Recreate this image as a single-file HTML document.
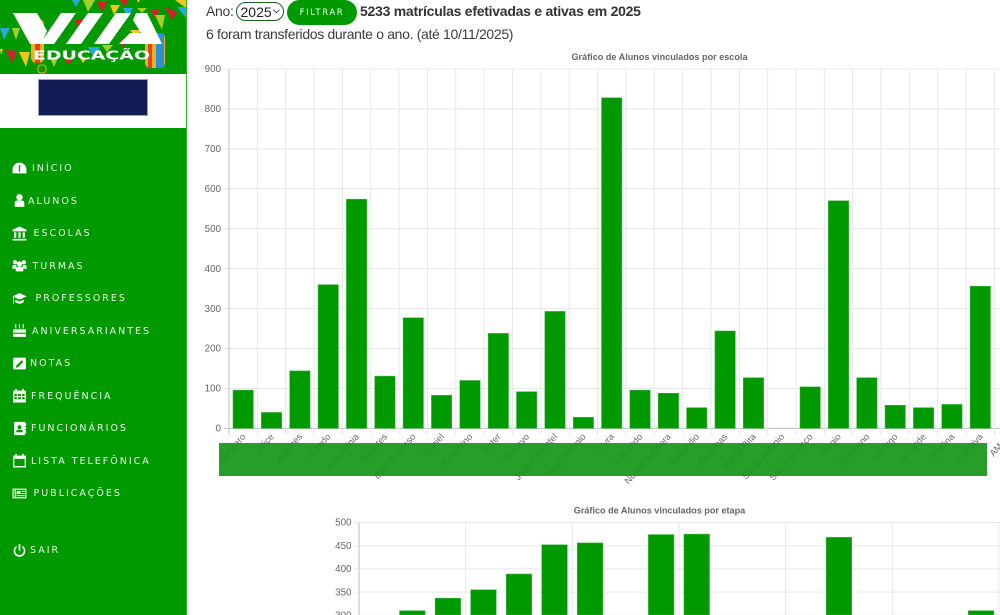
<!DOCTYPE html>
<html lang="pt-BR">
<head>
<meta charset="utf-8">
<title>Alunos vinculados</title>
<style>
html,body{margin:0;padding:0;background:#fff;width:1000px;height:615px;overflow:hidden}
body{position:relative;font-family:"Liberation Sans","DejaVu Sans",sans-serif;color:#333}
#sidebar{position:absolute;left:0;top:0;width:186px;height:615px;background:#009900;border-right:1px solid #33ad33}
#logo{position:absolute;left:0;top:0;width:186px;height:74px;display:block}
#brand-band{position:absolute;left:0;top:74px;width:186px;height:54px;background:#fff}
#brand-box{position:absolute;left:38px;top:5px;width:110px;height:37px;background:#141c55;border:.5px solid #9aa0c0;box-sizing:border-box}
.nav{position:absolute;left:0;width:186px;height:20px;color:#e9f6e9;text-decoration:none;display:block}
.nav svg{position:absolute;left:11.500px;top:2.500px;width:15px;height:15px;fill:#fff}
.nav span{position:absolute;top:5px;font:9.500px/12px "DejaVu Sans",sans-serif;letter-spacing:2px;white-space:nowrap}
#t1,#t2{position:absolute;white-space:nowrap;font-size:14px;line-height:18px;color:#3c3c3c}
#t1{left:206px;top:2px;letter-spacing:-.3px}
#t2{left:206px;top:25px;letter-spacing:-.33px}
#year-wrap{position:absolute;left:236px;top:2px;width:48px;height:19px}
#year{appearance:none;-webkit-appearance:none;width:48px;height:19px;border:1px solid #1f5c1f;border-radius:10px;background:#fff;color:#222;font:14px "Liberation Sans",sans-serif;padding:0 0 0 3.500px;margin:0;box-sizing:border-box;outline:none}
#year-wrap svg{position:absolute;left:37px;top:7px;width:7px;height:5px;pointer-events:none}
#filtrar{position:absolute;left:287px;top:0;width:70px;height:25px;border:0;border-radius:13px;background:#009900;color:#fff;font:8.500px "DejaVu Sans",sans-serif;letter-spacing:1.600px;padding:0}
#headline{position:absolute;left:360px;top:2px;font-weight:bold;font-size:14px;line-height:18px;color:#333;white-space:nowrap;letter-spacing:-.26px}
#chart{position:absolute;left:0;top:0;width:1000px;height:615px;display:block}
#redaction{position:absolute;left:219px;top:443px;width:768px;height:33px;background:rgba(25,150,25,.93)}
</style>
</head>
<body>

<svg id="chart" viewBox="0 0 1000 615"></svg>
<div id="redaction"></div>

<div id="t1">Ano:</div>
<div id="year-wrap">
  <select id="year"><option>2025</option></select>
  <svg viewBox="0 0 8 5"><path d="M.5.5 4 4 7.500.5" fill="none" stroke="#333" stroke-width="1"/></svg>
</div>
<button id="filtrar">FILTRAR</button>
<div id="headline">5233 matrículas efetivadas e ativas em 2025</div>
<div id="t2">6 foram transferidos durante o ano. (até 10/11/2025)</div>

<nav id="sidebar">
  <svg id="logo" viewBox="0 0 186 74">
    <rect width="186" height="74" fill="#009900"/>
    <g><rect x="31" y="19" width="13" height="44" rx="5" fill="#f2b01e"/><rect x="35" y="19" width="5" height="44" fill="#e0452b"/><rect x="38" y="65" width="8" height="8" rx="3" fill="none" stroke="#f2b01e" stroke-width="1"/></g>
    <g><rect x="145" y="33" width="20" height="35" rx="5" fill="#f2b01e"/><rect x="156" y="33" width="8" height="35" fill="#2a90d8"/><rect x="148" y="33" width="4" height="35" fill="#e0452b"/></g>
    <g>
      <polygon points="72,0 80,0 76,7" fill="#29a8dc"/><polygon points="83,0 95,0 88,12" fill="#a4cf2a"/><polygon points="97,2 107,2 102,12" fill="#d8202c"/><polygon points="110,5 120,5 114,15" fill="#f4c51c"/><polygon points="120,0 128,0 125,7" fill="#d8202c"/><polygon points="123,8 133,8 128,18" fill="#29a8dc"/><polygon points="137,0 140,0 138,3" fill="#f4c51c"/><polygon points="137,8 147,8 142,13" fill="#a4cf2a"/><polygon points="150,9 160,9 155,18" fill="#d8202c"/><polygon points="165,7 177,12 172,20" fill="#d8202c"/><polygon points="175,0 186,0 186,8" fill="#f4c51c"/><polygon points="177,7 186,7 186,18" fill="#29a8dc"/>
      <polygon points="155,15 165,15 162,30" fill="#a4cf2a"/><polygon points="130,30 140,30 140,43" fill="#f4c51c"/><polygon points="75,20 83,20 78,28" fill="#d8202c"/><polygon points="50,27 60,27 54,35" fill="#29a8dc"/>
      <polygon points="0,28 10,28 4,40" fill="#29a8dc"/><polygon points="12,28 20,28 16,40" fill="#a4cf2a"/><polygon points="0,49 3,49 1,55" fill="#f4c51c"/><polygon points="6,50 17,51 12,63" fill="#d8202c"/><polygon points="19,52 30,52 26,67" fill="#f4c51c"/>
      <polygon points="50,58 58,58 54,67" fill="#a4cf2a"/><polygon points="65,60 72,60 68,65" fill="#d8202c"/><polygon points="80,58 87,58 83,63" fill="#f4c51c"/><polygon points="88,47 100,47 95,60" fill="#29a8dc"/><polygon points="102,45 113,45 107,52" fill="#a4cf2a"/><polygon points="120,40 127,40 123,48" fill="#d8202c"/>
    </g>
    <g fill="#fff">
      <polygon points="13,13 37,13 47,31 41,44 30,44"/>
      <polygon points="61,13 76,13 54,44 40,44"/>
      <polygon points="88,13 103,13 81,44 66,44"/>
      <polygon points="116,13 131,13 109,44 94,44"/>
      <polygon points="136,13 147,13 162,44 119,44 130,33 141,33 133,20"/>
    </g>
    <text x="91.500" y="59.500" text-anchor="middle" fill="#fff" font-family="'DejaVu Sans',sans-serif" font-size="12" font-weight="bold" textLength="117" lengthAdjust="spacingAndGlyphs">EDUCAÇÃO</text>
  </svg>
  <div id="brand-band"><div id="brand-box"></div></div>

  <a class="nav" style="top:158px" href="#"><svg viewBox="0 0 14 14"><path d="M7 1.500A6.500 6.500 0 0 0 .5 8v3.500h13V8A6.500 6.500 0 0 0 7 1.500zM6.300 4h1.400l-.2 6h-1z"/></svg><span style="left:32px">INÍCIO</span></a>
  <a class="nav" style="top:190.500px" href="#"><svg viewBox="0 0 14 14"><circle cx="7" cy="4" r="3"/><path d="M2.500 13V9.500Q2.500 7 5 7h4q2.500 0 2.500 2.500V13z"/></svg><span style="left:28px">ALUNOS</span></a>
  <a class="nav" style="top:223px" href="#"><svg viewBox="0 0 14 14"><path d="M7 .5.500 3.500V5h13V3.500zM2 6h2v5H2zm4 0h2v5H6zm4 0h2v5h-2zM.5 12h13v1.500H.5z"/></svg><span style="left:33.500px">ESCOLAS</span></a>
  <a class="nav" style="top:255.500px" href="#"><svg viewBox="0 0 14 14"><circle cx="2.800" cy="4" r="2"/><circle cx="11.200" cy="4" r="2"/><circle cx="7" cy="5.500" r="2.500"/><path d="M.3 10V8q0-1.500 2.500-1.500T4 7v3zm9.700 0V7q0-.5 1.200-.5 2.500 0 2.500 1.500v2zM3.500 12.500V10q0-2 3.500-2t3.500 2v2.500z"/></svg><span style="left:32.500px">TURMAS</span></a>
  <a class="nav" style="top:288px" href="#"><svg viewBox="0 0 14 14"><path d="M7 2 .3 5 7 8l6.700-3zM3 8v2.500Q7 13 11 10.500V8L7 9.800zM1 6v6h.8V5.600z"/></svg><span style="left:35.500px">PROFESSORES</span></a>
  <a class="nav" style="top:320.500px" href="#"><svg viewBox="0 0 14 14"><path d="M3 1h1v4H3zm3.500 0h1v4h-1zM10 1h1v4h-1zM1 6h12v3H1zm0 4h12v3H1z"/></svg><span style="left:32px">ANIVERSARIANTES</span></a>
  <a class="nav" style="top:353px" href="#"><svg viewBox="0 0 14 14"><path fill-rule="evenodd" d="M2 1.500h10a1 1 0 0 1 1 1v9a1 1 0 0 1-1 1H2a1 1 0 0 1-1-1v-9a1 1 0 0 1 1-1zM9 4 4 9l-.5 2 2-.5 5-5z"/></svg><span style="left:30px">NOTAS</span></a>
  <a class="nav" style="top:385.500px" href="#"><svg viewBox="0 0 14 14"><path fill-rule="evenodd" d="M3 .8h1.500v1.700h5V.8H11v1.700h2v11H1v-11h2zM2.200 5.500v2h2.300v-2zm3.500 0v2h2.600v-2zm3.800 0v2h2.300v-2zm-7.300 3v2h2.300v-2zm3.500 0v2h2.600v-2zm3.800 0v2h2.300v-2z"/></svg><span style="left:31px">FREQUÊNCIA</span></a>
  <a class="nav" style="top:418px" href="#"><svg viewBox="0 0 14 14"><path fill-rule="evenodd" d="M2 .8h10v1h1.200v3H12v1h1.200v2H12v1h1.200v3H12v1.400H2zM7 4a1.800 1.800 0 1 0 0 3.600A1.800 1.800 0 0 0 7 4zM4 10.500h6V9.500Q10 8 7 8T4 9.500z"/></svg><span style="left:31px">FUNCIONÁRIOS</span></a>
  <a class="nav" style="top:450.500px" href="#"><svg viewBox="0 0 14 14"><path fill-rule="evenodd" d="M3 .8h1.500v1.700h5V.8H11v1.700h2v11H1v-11h2zM2.200 5.500v6.800h9.600V5.500z"/></svg><span style="left:31px">LISTA TELEFÔNICA</span></a>
  <a class="nav" style="top:483px" href="#"><svg viewBox="0 0 14 14"><path fill-rule="evenodd" d="M.5 2.500h13v9H.5zM1.500 3.500v7h1v-7zM3.500 3.500v7h9v-7zM4.300 4.500H8v3H4.300zM9 4.500h2.800v1H9zM9 6.500h2.800v1H9zM4.300 8.500h7.500v1H4.300z"/></svg><span style="left:33.500px">PUBLICAÇÕES</span></a>
  <a class="nav" style="top:540px" href="#"><svg viewBox="0 0 14 14"><path d="M6.200 1h1.600v6H6.200zM4.300 2.600v1.700a4 4 0 1 0 5.400 0V2.600a5.500 5.500 0 1 1-5.400 0z"/></svg><span style="left:30px">SAIR</span></a>
</nav>

<script>
const schoolNames = ["Amparo","Alice","Antunes","Arlindo","Arquimínia","Bacietes","Bom Sucesso","Daniel","Ernestino","Ester","Gustavo","João Pimentel","José Antonio","Lavra","Laurindo","Nossa Senhora","Petronilio","Pindobas","Santa Rita","Santo Antonio","São Francisco","Sergio","Tertuliano","Valongo","Visconde","Vitalina","Primitiva","AMAR"];
const schoolStudents = [96,40,144,360,574,131,277,83,120,238,92,293,28,828,96,88,52,244,127,0,104,570,127,58,52,60,356,0];
const schoolTicks = [0,100,200,300,400,500,600,700,800,900];
const stageStudents = [280,310,337,355,389,452,456,280,474,475,280,280,280,468,280,280,280,310,280];
const stageTicks = [300,350,400,450,500];
const stageGridEvery = 3;

const svg = document.getElementById('chart');
const NS = 'http://www.w3.org/2000/svg';
function make(tag, attrs, text) {
  const el = document.createElementNS(NS, tag);
  for (const k in attrs) el.setAttribute(k, attrs[k]);
  if (text !== undefined) el.textContent = text;
  svg.appendChild(el);
  return el;
}
const FRAME_BOTTOM = 615;
const schoolX = i => 229 + i * 28.35;
const schoolY = v => 428.4 - v * (359.4 / 900);
const stageX = i => 359 + i * 35.55;
const stageY = v => 754.5 - v * (232 / 500);

const title1 = make('text', {x:659.5, y:60, 'text-anchor':'middle', fill:'#666', 'font-size':9.1, 'font-weight':'bold', 'font-family':'"Liberation Sans",sans-serif'}, 'Gráfico de Alunos vinculados por escola');



schoolTicks.forEach(t => {
  const g = make('line', {x1:224, x2:1000, y1:schoolY(t), y2:schoolY(t), stroke: t === 0 ? '#bdbdbd' : '#e8e8e8', 'stroke-width':1});
  
  
  const l = make('text', {x:221, y:schoolY(t) + 3.2, 'text-anchor':'end', fill:'#666', 'font-size':9.8, 'font-family':'"Liberation Sans",sans-serif'}, String(t));
  
  
});
schoolNames.forEach((n, i) => {
  if (i === 0) return;
  const g = make('line', {x1:schoolX(i), x2:schoolX(i), y1:schoolY(900), y2:435, stroke:'#e8e8e8', 'stroke-width':1});
  
  
});
const axis1 = make('line', {x1:229, x2:229, y1:schoolY(900), y2:435, stroke:'#bdbdbd', 'stroke-width':1});



schoolStudents.forEach((v, i) => {
  const cx = schoolX(i + .5);
  const b = make('rect', {x:cx - 10.2, y:schoolY(v), width:20.4, height:schoolY(0) - schoolY(v), fill:'#009900', stroke:'#44b544', 'stroke-width':.5});
  if (v === 0) b.setAttribute('stroke', 'none');
  
  
});
schoolNames.forEach((n, i) => {
  const cx = schoolX(i + .5) + 3;
  const l = make('text', {x:cx, y:437, 'text-anchor':'end', fill:'#6e6e6e', 'font-size':9.3, transform:`rotate(-48 ${cx} 437)`, 'font-family':'"Liberation Sans",sans-serif'}, n);
  
  
});

const title2 = make('text', {x:659.5, y:513.5, 'text-anchor':'middle', fill:'#666', 'font-size':9.1, 'font-weight':'bold', 'font-family':'"Liberation Sans",sans-serif'}, 'Gráfico de Alunos vinculados por etapa');



stageTicks.forEach(t => {
  const g = make('line', {x1:354, x2:1000, y1:stageY(t), y2:stageY(t), stroke:'#e8e8e8', 'stroke-width':1});
  
  
  const l = make('text', {x:351.5, y:stageY(t) + 3.2, 'text-anchor':'end', fill:'#666', 'font-size':9.8, 'font-family':'"Liberation Sans",sans-serif'}, String(t));
  
  
});
stageStudents.forEach((v, i) => {
  if (i === 0 || i % stageGridEvery !== 0) return;
  const g = make('line', {x1:stageX(i), x2:stageX(i), y1:stageY(500), y2:FRAME_BOTTOM, stroke:'#e8e8e8', 'stroke-width':1});
  
  
});
const axis2 = make('line', {x1:359, x2:359, y1:stageY(500), y2:FRAME_BOTTOM, stroke:'#bdbdbd', 'stroke-width':1});


stageStudents.forEach((v, i) => {
  const cx = stageX(i + .5);
  const top = stageY(v);
  if (top >= FRAME_BOTTOM) return;
  const b = make('rect', {x:cx - 12.8, y:top, width:25.6, height:FRAME_BOTTOM - top, fill:'#009900', stroke:'#44b544', 'stroke-width':.5});
  
  
});
</script>
</body>
</html>
